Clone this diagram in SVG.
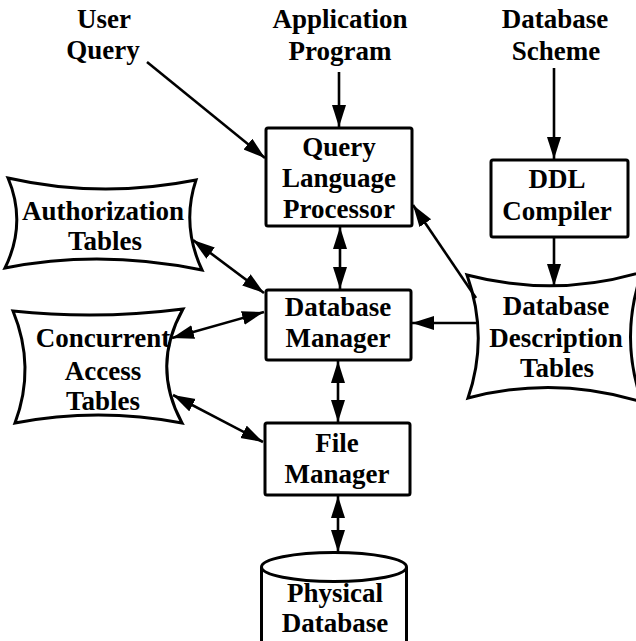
<svg xmlns="http://www.w3.org/2000/svg" width="636" height="641" viewBox="0 0 636 641">
<style>
text{font-family:"Liberation Serif","Times New Roman",serif;font-weight:bold;font-size:27px;text-anchor:middle;fill:#000}
.box{fill:#fff;stroke:#000;stroke-width:3}
.conn line{stroke:#000;stroke-width:2.6}
</style>
<defs>
<marker id="ah" markerUnits="userSpaceOnUse" markerWidth="24" markerHeight="16" viewBox="0 0 24 16" refX="22" refY="7" orient="auto-start-reverse">
<path d="M0,0 L22,7 L0,14 Z" fill="#000"/>
</marker>
</defs>
<rect width="636" height="641" fill="#fff"/>

<g id="user-query"><text x="104" y="28">User</text><text x="103" y="59">Query</text></g>
<g id="application-program"><text x="340" y="28">Application</text><text x="340" y="60">Program</text></g>
<g id="database-scheme"><text x="555" y="28">Database</text><text x="556" y="60">Scheme</text></g>

<g id="qlp"><rect class="box" x="266" y="128" width="146" height="98" rx="2"/>
<text x="339" y="156">Query</text><text x="339" y="187">Language</text><text x="339" y="218">Processor</text></g>

<g id="ddl"><rect class="box" x="491" y="160" width="137" height="77" rx="2"/>
<text x="557" y="188">DDL</text><text x="557" y="220">Compiler</text></g>

<g id="dbm"><rect class="box" x="266" y="290" width="145" height="70" rx="2"/>
<text x="338" y="316">Database</text><text x="338" y="347">Manager</text></g>

<g id="fm"><rect class="box" x="265" y="423" width="145" height="72" rx="2"/>
<text x="337" y="452">File</text><text x="337" y="483">Manager</text></g>

<g id="auth"><path class="box" d="M8,178 Q100,199 196,180 Q181,225 202,270 Q100,249 5,268 Q27,223 8,178 Z"/>
<text x="103" y="220">Authorization</text><text x="105" y="250">Tables</text></g>

<g id="conc"><path class="box" d="M13,311 Q98,320 183,309 Q151,366 182,423 Q98,407 15,423 Q36,367 13,311 Z"/>
<text x="103" y="347">Concurrent</text><text x="103" y="380">Access</text><text x="103" y="410">Tables</text></g>

<g id="ddt"><path class="box" d="M467,275 Q555,298 642,272 Q619,337 642,402 Q555,375 468,398 Q489,337 467,275 Z"/>
<text x="556" y="315">Database</text><text x="556" y="347">Description</text><text x="557" y="377">Tables</text></g>

<g id="pdb"><path class="box" d="M261.5,567 L261.5,642 A72.5,14.5 0 0 0 406.5,642 L406.5,567"/>
<ellipse class="box" cx="334" cy="567" rx="72.5" ry="14.5"/>
<text x="335" y="602">Physical</text><text x="335" y="632">Database</text></g>

<g id="connectors" class="conn">
<line x1="147" y1="62" x2="265" y2="158" marker-end="url(#ah)"/>
<line x1="339" y1="72" x2="339" y2="127" marker-end="url(#ah)"/>
<line x1="554" y1="68" x2="554" y2="159" marker-end="url(#ah)"/>
<line x1="554" y1="237" x2="554" y2="286" marker-end="url(#ah)"/>
<line x1="476" y1="298" x2="413" y2="205" marker-end="url(#ah)"/>
<line x1="479" y1="323" x2="412" y2="323" marker-end="url(#ah)"/>
<line x1="340" y1="227" x2="340" y2="289" marker-start="url(#ah)" marker-end="url(#ah)"/>
<line x1="338" y1="361" x2="338" y2="422" marker-start="url(#ah)" marker-end="url(#ah)"/>
<line x1="338" y1="496" x2="338" y2="552" marker-start="url(#ah)" marker-end="url(#ah)"/>
<line x1="193" y1="240" x2="264" y2="293" marker-start="url(#ah)" marker-end="url(#ah)"/>
<line x1="172" y1="338" x2="264" y2="312" marker-start="url(#ah)" marker-end="url(#ah)"/>
<line x1="173" y1="395" x2="263" y2="442" marker-start="url(#ah)" marker-end="url(#ah)"/>
</g>
</svg>
